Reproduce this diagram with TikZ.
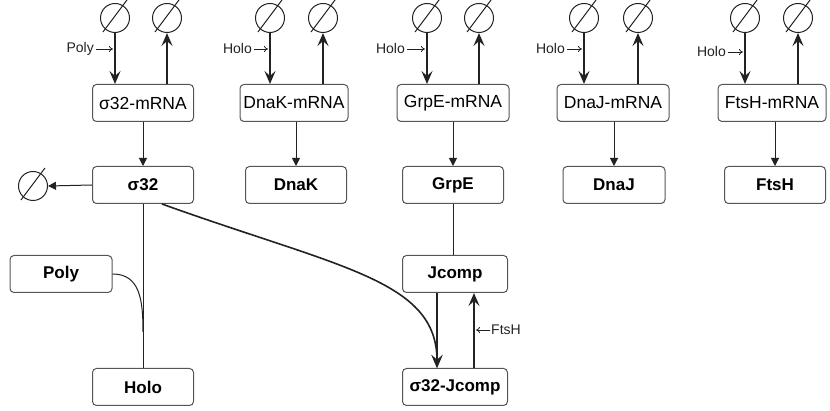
\documentclass[tikz,border=0pt]{standalone}
\usepackage{fontspec}
\setmainfont{Liberation Sans}
\usetikzlibrary{arrows.meta,calc}
\definecolor{lc}{HTML}{222222}
\definecolor{bc}{HTML}{555555}
\tikzset{
  box/.style={draw=bc, line width=1pt, rounded corners=4pt, fill=white,
    minimum height=37pt, inner sep=0pt, font=\fontsize{17.5}{19}\selectfont},
  mrna/.style={box},
  prot/.style={box, font=\fontsize{17}{19}\selectfont\bfseries},
  eset/.style={circle, draw=lc, line width=1pt, minimum size=29pt, inner sep=0pt},
  slash/.style={draw=lc, line width=1pt},
  thinarr/.style={draw=lc, line width=1pt, -{Triangle[length=8pt,width=8pt]}},
  heavy/.style={draw=lc, line width=1.6pt, -{Stealth[length=13pt,width=11pt,inset=5pt]}},
  plain/.style={draw=lc, line width=1pt},
  lab/.style={font=\fontsize{14}{16}\selectfont, text=lc, inner sep=0pt},
  labarr/.style={draw=lc, line width=0.8pt, -{To[length=4pt,width=6pt]}}
}
\begin{document}
\begin{tikzpicture}[x=1pt,y=-1pt]
\useasboundingbox (0,0) rectangle (830,411);

% mRNA boxes
\node[mrna, minimum width=101pt] (m1) at (143,103) {σ32-mRNA};
\node[mrna, minimum width=108pt] (m2) at (294,103) {DnaK-mRNA};
\node[mrna, minimum width=112pt] (m3) at (453,103) {GrpE-mRNA};
\node[mrna, minimum width=112pt] (m4) at (613,103) {DnaJ-mRNA};
\node[mrna, minimum width=108pt] (m5) at (772,103) {FtsH-mRNA};

% protein boxes
\node[prot, minimum width=101pt] (p1) at (143,185) {σ32};
\node[prot, minimum width=101pt] (p2) at (296,185) {DnaK};
\node[prot, minimum width=101pt] (p3) at (453,185) {GrpE};
\node[prot, minimum width=102pt] (p4) at (614,185) {DnaJ};
\node[prot, minimum width=101pt] (p5) at (775,185) {FtsH};
\node[prot, minimum width=102pt] (poly) at (61,274) {Poly};
\node[prot, minimum width=101pt] (holo) at (143,387) {Holo};
\node[prot, minimum width=105pt] (jc) at (455,274) {Jcomp};
\node[prot, minimum width=105pt] (sjc) at (455,387) {σ32-Jcomp};

% empty sets
\foreach \n/\x in {a1/115,b1/167,a2/270,b2/323,a3/427,b3/479,a4/584,b4/638,a5/745,b5/798}{
  \node[eset] (e\n) at (\x,18) {};
  \draw[slash] ([shift={(-12,14)}]e\n.center) -- ([shift={(12,-18)}]e\n.center);
}
\node[eset] (e0) at (33,186) {};
\draw[slash] ([shift={(-12,14)}]e0.center) -- ([shift={(12,-18)}]e0.center);

% synthesis / degradation of mRNA
\foreach \i in {1,...,5}{
  \draw[heavy] (ea\i.south) -- (ea\i.south |- m\i.north);
  \draw[heavy] (eb\i.south |- m\i.north) -- (eb\i.south);
  \draw[thinarr] (m\i.south -| p\i.north) -- (p\i.north);
}

% modifier labels
\node[lab, anchor=east] (l1) at (94,49) {Poly};
\node[lab, anchor=east] (l2) at (252,49) {Holo};
\node[lab, anchor=east] (l3) at (405,49) {Holo};
\node[lab, anchor=east] (l4) at (565,49) {Holo};
\node[lab, anchor=east] (l5) at (726,52) {Holo};
\foreach \i in {1,...,5}{
  \draw[labarr] ([xshift=2pt]l\i.east) -- ([xshift=-2pt]l\i.east -| ea\i.center);
}

% sigma32 degradation
\draw[thinarr] (p1.west) -- (e0.east);

% sigma32 -- Holo, Poly binding
\draw[plain] (p1.south) -- (holo.north);
\coordinate (pj) at (143,332);
\draw[plain] (poly.east) .. controls (140,274) and (143,300) .. (pj);

% GrpE -- Jcomp
\draw[plain] (p3.south) -- (jc.north -| p3.south);

% Jcomp + sigma32 -> sigma32-Jcomp
\draw[heavy] (jc.south -| 437,0) -- (sjc.north -| 437,0);
\draw[heavy] (p1.south -| 162,0) .. controls (340,268) and (437,280) .. (sjc.north -| 437,0);

% sigma32-Jcomp -> Jcomp (FtsH)
\draw[heavy] (sjc.north -| 474,0) -- (jc.south -| 474,0);
\node[lab, anchor=west] (lf) at (491,330) {FtsH};
\draw[labarr] ([xshift=-1pt]lf.west) -- (476,330);
\end{tikzpicture}
\end{document}
